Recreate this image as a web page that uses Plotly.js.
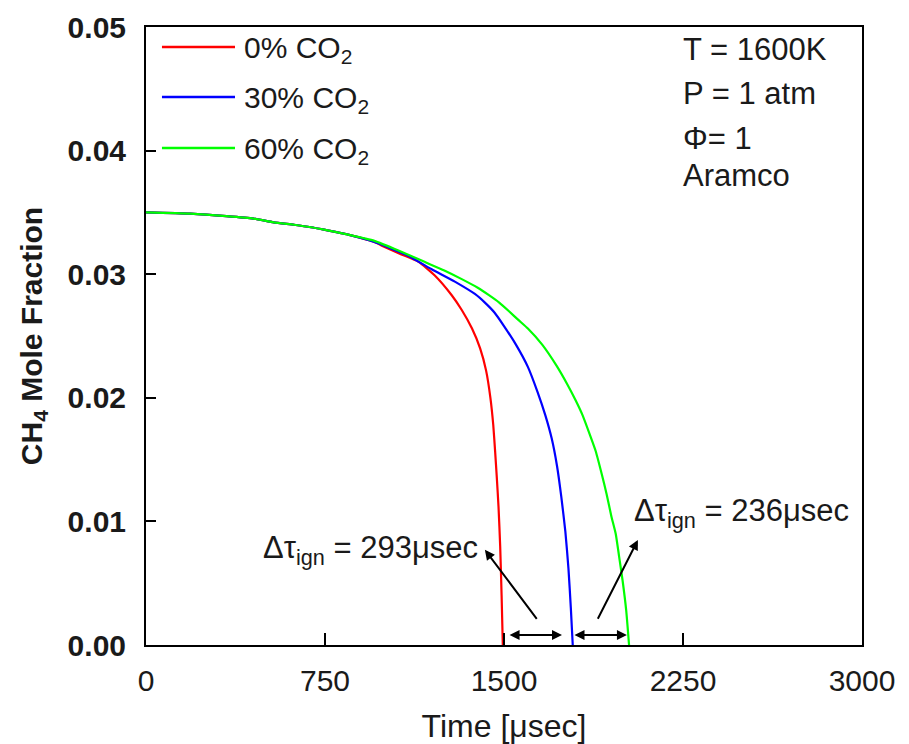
<!DOCTYPE html>
<html>
<head>
<meta charset="utf-8">
<script src="https://cdn.plot.ly/plotly-3.0.1.min.js"></script>
<style>html,body{margin:0;padding:0;background:#fff;}#chart{width:909px;height:744px;}</style>
</head>
<body>
<div id="chart"></div>
<script>
// ---- data ----
const seriesNames = ['0% CO<sub>2</sub>', '30% CO<sub>2</sub>', '60% CO<sub>2</sub>'];

const time0 = [0, 185, 337, 451, 535, 620, 691, 746, 847, 957, 1000, 1070, 1142, 1210, 1281, 1323, 1366, 1400, 1425, 1443, 1455, 1463, 1470, 1477, 1484, 1490, 1495];
const ch4_0 = [0.0350, 0.0349, 0.0347, 0.0345, 0.0342, 0.0340, 0.0338, 0.0336, 0.0332, 0.0326, 0.0322, 0.0316, 0.0310, 0.0299, 0.0283, 0.0271, 0.0256, 0.0240, 0.0222, 0.0200, 0.0178, 0.0156, 0.0135, 0.0112, 0.0080, 0.0040, 0.0];

const time30 = [0, 185, 337, 451, 535, 620, 691, 746, 847, 957, 1098, 1197, 1294, 1378, 1420, 1460, 1500, 1550, 1600, 1640, 1673, 1700, 1722, 1740, 1757, 1770, 1780, 1788];
const ch4_30 = [0.0350, 0.0349, 0.0347, 0.0345, 0.0342, 0.0340, 0.0338, 0.0336, 0.0332, 0.0326, 0.0315, 0.0304, 0.0294, 0.0284, 0.0277, 0.0269, 0.0258, 0.0243, 0.0225, 0.0205, 0.0186, 0.0167, 0.0145, 0.0120, 0.0092, 0.0062, 0.0030, 0.0];

const time60 = [0, 185, 337, 451, 535, 620, 691, 746, 847, 957, 1060, 1167, 1250, 1323, 1390, 1437, 1480, 1521, 1560, 1600, 1660, 1720, 1765, 1800, 1829, 1860, 1884, 1910, 1930, 1950, 1968, 1985, 1997, 2012, 2024];
const ch4_60 = [0.0350, 0.0349, 0.0347, 0.0345, 0.0342, 0.0340, 0.0338, 0.0336, 0.0332, 0.0327, 0.0319, 0.0310, 0.0303, 0.0296, 0.0289, 0.0283, 0.0277, 0.0270, 0.0263, 0.0256, 0.0243, 0.0226, 0.0211, 0.0198, 0.0186, 0.0170, 0.0157, 0.0138, 0.0122, 0.0104, 0.0090, 0.0068, 0.0052, 0.0028, 0.0];

const xTicks = [0, 750, 1500, 2250, 3000];
const yTicks = [0.00, 0.01, 0.02, 0.03, 0.04, 0.05];
const yTickText = ['0.00', '0.01', '0.02', '0.03', '0.04', '0.05'];

const conditions = ['T = 1600K', 'P = 1 atm', 'Φ= 1', 'Aramco'];
const delta1 = 'Δτ<sub>ign</sub> = 293μsec';
const delta2 = 'Δτ<sub>ign</sub> = 236μsec';

// ---- styling ----
const FONT = 'Arial, "Liberation Sans", sans-serif';
const TXT = '#1a1a1a';
const colors = ['#ff0000', '#0000ff', '#00ff00'];
const xs = [time0, time30, time60];
const ys = [ch4_0, ch4_30, ch4_60];

const traces = xs.map((x, i) => ({
  x: x, y: ys[i], type: 'scatter', mode: 'lines', name: seriesNames[i],
  line: {color: colors[i], width: 2.2, shape: 'spline', smoothing: 0.5}, showlegend: false, hoverinfo: 'skip'
}));

const shapes = [];
const annotations = [];

// custom legend (long line samples like the reference)
const legY = [0.9676, 0.8867, 0.8042];
seriesNames.forEach((n, i) => {
  shapes.push({type: 'line', xref: 'paper', yref: 'paper', x0: 0.0223, x1: 0.1243, y0: legY[i], y1: legY[i],
    line: {color: colors[i], width: 2.5}});
  annotations.push({xref: 'paper', yref: 'paper', x: 0.134, y: legY[i] - 0.004, xanchor: 'left', yanchor: 'middle',
    text: n, showarrow: false, font: {family: FONT, size: 30, color: TXT}});
});

// condition text block
const condY = [0.0482, 0.0446, 0.0410, 0.0380];
conditions.forEach((t, i) => {
  annotations.push({xref: 'x', yref: 'y', x: 2243, y: condY[i], xanchor: 'left', yanchor: 'middle',
    text: t, showarrow: false, font: {family: FONT, size: 31, color: TXT}});
});

// delta tau labels
annotations.push({xref: 'x', yref: 'y', x: 1399, y: 0.0077, xanchor: 'right', yanchor: 'middle',
  text: delta1, showarrow: false, font: {family: FONT, size: 31, color: TXT}});
annotations.push({xref: 'x', yref: 'y', x: 2038, y: 0.0107, xanchor: 'left', yanchor: 'middle',
  text: delta2, showarrow: false, font: {family: FONT, size: 31, color: TXT}});

// arrows
const arrowBase = {xref: 'x', yref: 'y', axref: 'x', ayref: 'y', text: '', showarrow: true,
  arrowcolor: '#000', arrowwidth: 2, arrowsize: 1, arrowhead: 2, standoff: 0, startstandoff: 0};
annotations.push(Object.assign({}, arrowBase, {x: 1743, y: 0.0008, ax: 1517, ay: 0.0008, arrowside: 'end+start'}));
annotations.push(Object.assign({}, arrowBase, {x: 2015, y: 0.0008, ax: 1789, ay: 0.0008, arrowside: 'end+start'}));
annotations.push(Object.assign({}, arrowBase, {x: 1420, y: 0.0077, ax: 1642, ay: 0.0020}));
annotations.push(Object.assign({}, arrowBase, {x: 2061, y: 0.0085, ax: 1890, ay: 0.0020}));

const layout = {
  width: 909, height: 744,
  margin: {l: 146, r: 47, t: 27, b: 99, pad: 0},
  paper_bgcolor: '#fff', plot_bgcolor: '#fff',
  showlegend: false,
  xaxis: {
    range: [0, 3000], tickmode: 'array', tickvals: xTicks, ticktext: xTicks.map(String),
    ticks: 'inside', ticklen: 12, tickwidth: 2, tickcolor: '#000',
    showline: true, linecolor: '#000', linewidth: 2, mirror: true,
    showgrid: false, zeroline: false, ticklabelstandoff: 8,
    tickfont: {family: FONT, size: 30, color: TXT},
    title: {text: 'Time [μsec]', font: {family: FONT, size: 32, color: TXT}, standoff: 28}
  },
  yaxis: {
    range: [0, 0.05], tickmode: 'array', tickvals: yTicks, ticktext: yTickText,
    ticks: 'inside', ticklen: 10, tickwidth: 2, tickcolor: '#000',
    showline: true, linecolor: '#000', linewidth: 2, mirror: true,
    showgrid: false, zeroline: false, ticklabelstandoff: 12,
    tickfont: {family: FONT, size: 30, color: TXT, weight: 'bold'},
    title: {text: '<b>CH<sub>4</sub> Mole Fraction</b>', font: {family: FONT, size: 30, color: TXT}, standoff: 16}
  },
  shapes: shapes,
  annotations: annotations
};

Plotly.newPlot('chart', traces, layout, {staticPlot: true, displayModeBar: false});
</script>
</body>
</html>
